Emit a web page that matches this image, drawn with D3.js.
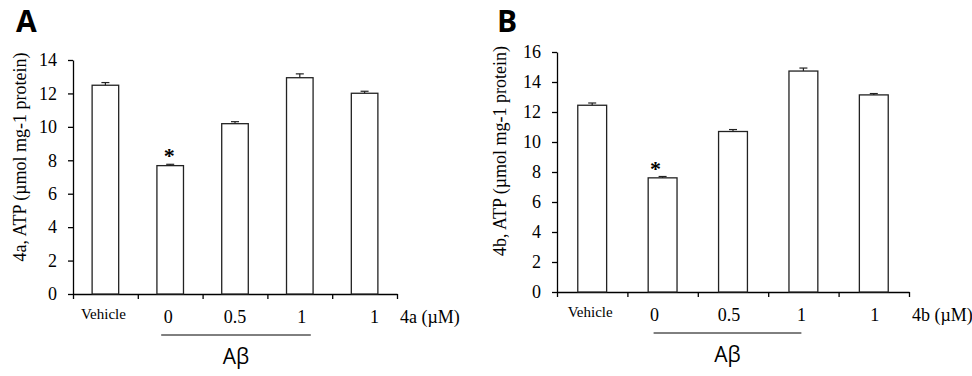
<!DOCTYPE html>
<html>
<head>
<meta charset="utf-8">
<script src="https://cdn.jsdelivr.net/npm/d3@7"></script>
<style>
  body { margin: 0; background: #fff; }
  svg { display: block; }
</style>
</head>
<body>
<div id="chart"></div>
<script>
// data
const categories = ["Vehicle", "0", "0.5", "1", "1"];
const valuesA = [12.49, 7.68, 10.19, 12.94, 12.01];
const errorsA = [0.16, 0.08, 0.12, 0.23, 0.12];
const valuesB = [12.45, 7.61, 10.70, 14.73, 13.14];
const errorsB = [0.15, 0.09, 0.13, 0.20, 0.09];
const ticksA = [0, 2, 4, 6, 8, 10, 12, 14];
const ticksB = [0, 2, 4, 6, 8, 10, 12, 14, 16];
const significant = [false, true, false, false, false];

const serif = "'Liberation Serif', 'Times New Roman', serif";
const sans = "'Open Sans', 'DejaVu Sans', sans-serif";

const svg = d3.select("#chart").append("svg")
  .attr("width", 972)
  .attr("height", 376);

function drawPanel(cfg) {
  const g = svg.append("g").attr("class", "panel");

  const y = d3.scaleLinear()
    .domain([0, d3.max(cfg.ticks)])
    .range([cfg.bottom, cfg.top]);

  const x = d3.scaleBand()
    .domain(d3.range(categories.length))
    .range([cfg.left, cfg.right])
    .paddingInner(0.59)
    .paddingOuter(0.295);

  // band edges for the x tick marks
  const xEdge = d3.scaleLinear()
    .domain([0, categories.length])
    .range([cfg.left, cfg.right]);

  // panel letter
  g.append("text")
    .attr("x", cfg.letterX)
    .attr("y", 32)
    .attr("font-family", sans)
    .attr("font-weight", "bold")
    .attr("font-size", 30)
    .text(cfg.letter);

  // y axis
  const yAxis = g.append("g")
    .attr("transform", `translate(${cfg.left},0)`)
    .call(d3.axisLeft(y).tickValues(cfg.ticks).tickSize(5).tickSizeOuter(0).tickPadding(11));
  yAxis.selectAll("line, path").attr("stroke", "#000").attr("stroke-width", 1.3);
  yAxis.selectAll("text")
    .attr("font-family", serif)
    .attr("font-size", 18)
    .attr("fill", "#000");

  // x axis with tick marks at the band edges
  const xAxis = g.append("g")
    .attr("transform", `translate(0,${cfg.bottom})`)
    .call(d3.axisBottom(xEdge).tickValues(d3.range(categories.length + 1)).tickFormat("").tickSize(5).tickSizeOuter(0));
  xAxis.selectAll("line, path").attr("stroke", "#000").attr("stroke-width", 1.3);

  // bars
  g.selectAll("rect.bar")
    .data(cfg.values)
    .join("rect")
    .attr("class", "bar")
    .attr("x", (d, i) => x(i))
    .attr("y", d => y(d))
    .attr("width", x.bandwidth())
    .attr("height", d => y(0) - y(d))
    .attr("fill", "#fff")
    .attr("stroke", "#222")
    .attr("stroke-width", 1.3);

  // error bars (upper only)
  const cx = i => x(i) + x.bandwidth() / 2;
  g.selectAll("line.err")
    .data(cfg.values)
    .join("line")
    .attr("class", "err")
    .attr("x1", (d, i) => cx(i))
    .attr("x2", (d, i) => cx(i))
    .attr("y1", d => y(d))
    .attr("y2", (d, i) => y(d + cfg.errors[i]))
    .attr("stroke", "#222")
    .attr("stroke-width", 1.2);
  g.selectAll("line.cap")
    .data(cfg.values)
    .join("line")
    .attr("class", "cap")
    .attr("x1", (d, i) => cx(i) - 4)
    .attr("x2", (d, i) => cx(i) + 4)
    .attr("y1", (d, i) => y(d + cfg.errors[i]))
    .attr("y2", (d, i) => y(d + cfg.errors[i]))
    .attr("stroke", "#222")
    .attr("stroke-width", 1.2);

  // significance stars
  g.selectAll("text.star")
    .data(cfg.values.map((v, i) => ({ v, i })).filter(d => significant[d.i]))
    .join("text")
    .attr("class", "star")
    .attr("x", d => cx(d.i) + cfg.starDx)
    .attr("y", d => y(d.v + cfg.errors[d.i]) - 1)
    .attr("text-anchor", "middle")
    .attr("font-family", serif)
    .attr("font-weight", "bold")
    .attr("font-size", 22)
    .text("*");

  // category labels
  g.selectAll("text.cat")
    .data(categories)
    .join("text")
    .attr("class", "cat")
    .attr("x", (d, i) => cx(i) + cfg.labelDx[i])
    .attr("y", (d, i) => cfg.bottom + (i === 0 ? 25 : 29))
    .attr("text-anchor", "middle")
    .attr("font-family", serif)
    .attr("font-size", (d, i) => i === 0 ? 15 : 18)
    .text(d => d);

  g.append("text")
    .attr("x", cfg.right + 3)
    .attr("y", cfg.bottom + 29)
    .attr("font-family", serif)
    .attr("font-size", 18)
    .text(cfg.unit);

  // A-beta group bracket
  const x0 = cx(1) - 9;
  const x1 = cx(3) + cfg.lineEndDx;
  g.append("line")
    .attr("x1", x0).attr("x2", x1)
    .attr("y1", cfg.bottom + 41).attr("y2", cfg.bottom + 41)
    .attr("stroke", "#000")
    .attr("stroke-width", 1);
  g.append("text")
    .attr("x", (x0 + x1) / 2)
    .attr("y", cfg.bottom + 70)
    .attr("text-anchor", "middle")
    .attr("font-family", sans)
    .attr("font-size", 21)
    .text("Aβ");

  // y axis title
  g.append("text")
    .attr("transform", `translate(${cfg.titleX},${cfg.titleY}) rotate(-90)`)
    .attr("text-anchor", "middle")
    .attr("font-family", serif)
    .attr("font-size", 18)
    .text(cfg.title);
}

drawPanel({
  letter: "A", letterX: 16,
  values: valuesA, errors: errorsA, ticks: ticksA,
  left: 73, right: 397, top: 60, bottom: 294,
  labelDx: [-2, -2, 0, 2, 10], starDx: -1, lineEndDx: 11,
  unit: "4a (µM)",
  title: "4a, ATP (µmol mg-1 protein)", titleX: 26, titleY: 157
});

drawPanel({
  letter: "B", letterX: 497,
  values: valuesB, errors: errorsB, ticks: ticksB,
  left: 557, right: 909, top: 52, bottom: 292,
  labelDx: [-2, -8, -4, -2, 1], starDx: -7, lineEndDx: -2,
  unit: "4b (µM)",
  title: "4b, ATP (µmol mg-1 protein)", titleX: 506, titleY: 151
});
</script>
</body>
</html>
